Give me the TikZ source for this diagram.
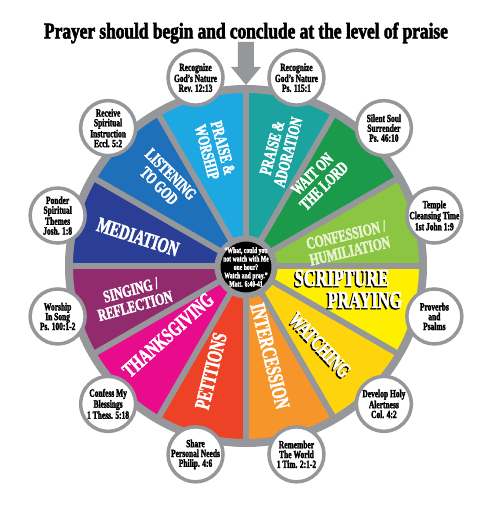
\documentclass[tikz,border=0pt]{standalone}
\usepackage{fontspec}
\newfontfamily\heavyfont[FakeStretch=0.68,BoldFeatures={FakeBold=2.2}]{Liberation Serif}
\newfontfamily\titlefont[FakeStretch=0.77,BoldFeatures={FakeBold=2.5}]{Liberation Serif}
\usetikzlibrary{positioning,calc}

\definecolor{rimgray}{RGB}{150,151,155}
\definecolor{worshipcol}{RGB}{30,168,226}
\definecolor{adorecol}{RGB}{27,163,160}
\definecolor{waitcol}{RGB}{26,154,74}
\definecolor{confcol}{RGB}{139,197,65}
\definecolor{confink}{RGB}{232,243,210}
\definecolor{scripcol}{RGB}{255,240,0}
\definecolor{watchcol}{RGB}{254,213,12}
\definecolor{intercol}{RGB}{246,150,42}
\definecolor{petcol}{RGB}{238,66,38}
\definecolor{thankcol}{RGB}{232,12,140}
\definecolor{singcol}{RGB}{146,42,110}
\definecolor{medcol}{RGB}{42,62,150}
\definecolor{listcol}{RGB}{30,112,186}

\begin{document}
\begin{tikzpicture}[x=1pt, y=1pt,
    seglabel/.style={text=white, align=center, inner sep=0pt, font=\heavyfont\bfseries\fontsize{21}{20}\selectfont},
    pairlabel/.style={seglabel, font=\heavyfont\bfseries\fontsize{17}{16.5}\selectfont},
    biglabel/.style={seglabel, font=\heavyfont\bfseries\fontsize{24}{22}\selectfont},
    bubble/.style={circle, draw=rimgray, line width=3.5pt, fill=white, minimum size=55pt, inner sep=0pt},
    bubtext/.style={align=center, inner sep=0pt, text=black, font=\heavyfont\bfseries\fontsize{11}{9.8}\selectfont},
    hub/.style={circle, fill=black, draw=rimgray, line width=6pt, minimum size=57pt, inner sep=0pt},
    hubtext/.style={align=center, inner sep=0pt, text=white, font=\heavyfont\bfseries\fontsize{8.4}{8.4}\selectfont},
    spoke/.style={rimgray, line width=6pt}
]
\useasboundingbox (-246,-246) rectangle (249,266);

% Title
\node[font=\titlefont\bfseries\fontsize{22.5}{24}\selectfont] (title) at (0,233) {Prayer should begin and conclude at the level of praise};

% Arrow into the wheel
\fill[rimgray] (-8,224) -- (8,224) -- (8,199) -- (15,199) -- (0,181) -- (-15,199) -- (-8,199) -- cycle;

% Wheel segments
\foreach \s/\c in {0/confcol, 30/waitcol, 60/adorecol, 90/worshipcol, 120/listcol, 150/medcol,
    180/singcol, 210/thankcol, 240/petcol, 270/intercol, 300/watchcol, 330/scripcol}
    \fill[\c] (0,0) -- (\s:178) arc[start angle=\s, end angle=\s+30, radius=178] -- cycle;

% Spokes and rim
\foreach \s in {0,30,...,330}
    \draw[spoke] (0,0) -- (\s:178);
\draw[rimgray, line width=8pt] (0,0) circle[radius=177];

% Centre
\node[hub] (hub) at (0,-1) {};
\node[hubtext] (quote) at (hub) {“What, could you\\not watch with Me\\one hour?\\Watch and pray.”\\Matt. 6:40-41};

% Segment labels
\node[pairlabel, rotate=-75] (worship) at (-31,116) {PRAISE \&\\WORSHIP};
\node[pairlabel, rotate=75] (adoration) at (34,116) {PRAISE \&\\ADORATION};
\node[pairlabel, rotate=45] (waitlord) at (72,86) {WAIT ON\\THE LORD};
\node[pairlabel, rotate=13, text=confink] (confession) at (102,23) {CONFESSION /\\HUMILIATION};
\node[seglabel, rotate=-76] (intercession) at (24,-90) {INTERCESSION};
\node[seglabel, rotate=76] (petitions) at (-35,-105) {PETITIONS};
\node[seglabel, rotate=42] (thanks) at (-78,-69) {THANKSGIVING};
\node[pairlabel, rotate=15] (singing) at (-113,-32) {SINGING /\\REFLECTION};
\node[seglabel, rotate=-18] (mediation) at (-108,29) {MEDIATION};
\node[pairlabel, rotate=-45] (listening) at (-81,86) {LISTENING\\TO GOD};

% Shaded labels
\node[biglabel, text=black] (scripshade) at (94.6,-13.4) {SCRIPTURE};
\node[biglabel] (scripture) at (96,-12) {SCRIPTURE};
\node[biglabel, text=black] (prayshade) at (117.6,-35.4) {PRAYING};
\node[biglabel] (praying) at (119,-34) {PRAYING};
\node[seglabel, rotate=-47, text=black] (watchshade) at (72.6,-80.4) {WATCHING};
\node[seglabel, rotate=-47] (watching) at (74,-79) {WATCHING};

% Bubbles round the rim
\foreach \a/\txt [count=\i] in {
    105/{Recognize\\God’s Nature\\Rev. 12:13},
    75/{Recognize\\God’s Nature\\Ps. 115:1},
    45/{Silent Soul\\Surrender\\Ps. 46:10},
    15/{Temple\\Cleansing Time\\1st John 1:9},
    -15/{Proverbs\\and\\Psalms},
    -45/{Develop Holy\\Alertness\\Col. 4:2},
    -75/{Remember\\The World\\1 Tim. 2:1-2},
    -105/{Share\\Personal Needs\\Philip. 4:6},
    -135/{Confess My\\Blessings\\1 Thess. 5:18},
    -165/{Worship\\In Song\\Ps. 100:1-2},
    165/{Ponder\\Spiritual\\Themes\\Josh. 1:8},
    135/{Receive\\Spiritual\\Instruction\\Eccl. 5:2}}
{
    \node[bubble] (bub\i) at (\a:195) {};
    \node[bubtext] (note\i) at (bub\i) {\txt};
}

\end{tikzpicture}
\end{document}
